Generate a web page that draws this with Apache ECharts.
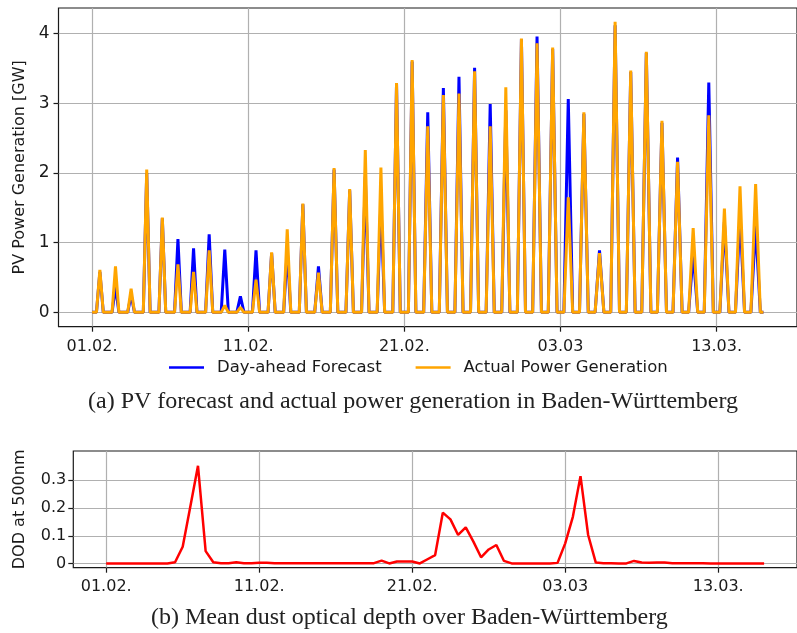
<!DOCTYPE html>
<html>
<head>
<meta charset="utf-8">
<script src="https://cdn.jsdelivr.net/npm/echarts@6/dist/echarts.min.js"></script>
<style>
html,body{margin:0;padding:0;background:#fff;}
#chart{width:797px;height:633px;}
</style>
</head>
<body>
<div id="chart"></div>
<script>
// ---- data ----
const xTickValues = [0, 10, 20, 30, 40];
const xTickLabels = ['01.02.', '11.02.', '21.02.', '03.03', '13.03.'];
const pvTickValues = [0, 1, 2, 3, 4];
const pvTickLabels = ['0', '1', '2', '3', '4'];
const dodTickValues = [0, 0.1, 0.2, 0.3];
const dodTickLabels = ['0', '0.1', '0.2', '0.3'];

// daily peak values (GW), day 0 = 01.02.
const forecastPeak = [0.58, 0.37, 0.25, 2.00, 1.35, 1.05, 0.92, 1.12, 0.90, 0.23,
  0.89, 0.85, 0.90, 1.55, 0.66, 2.05, 1.75, 1.95, 1.60, 3.28,
  3.60, 2.87, 3.22, 3.38, 3.51, 2.99, 2.90, 3.92, 3.96, 3.78,
  3.06, 2.85, 0.89, 4.12, 3.45, 3.72, 2.72, 2.22, 0.85, 3.30,
  1.30, 1.40, 1.25];
const actualPeak = [0.61, 0.66, 0.34, 2.05, 1.36, 0.69, 0.58, 0.89, 0.10, 0.07,
  0.47, 0.86, 1.19, 1.56, 0.57, 2.07, 1.77, 2.33, 2.08, 3.29,
  3.62, 2.67, 3.12, 3.14, 3.46, 2.67, 3.23, 3.93, 3.86, 3.80,
  1.65, 2.87, 0.85, 4.17, 3.47, 3.74, 2.75, 2.16, 1.21, 2.83,
  1.49, 1.81, 1.84];
// hours of PV production per week
const weekProductionHours = [10.5, 11, 11.5, 12.5, 13.5, 14, 14.5];
const lastDay = 43;

// dust optical depth, 12-hourly from 01.02. 00:00
const dodStepDays = 0.5;
const dodValues = [
  0.001, 0.001, 0.001, 0.001, 0.001, 0.001, 0.001, 0.001, 0.001, 0.005,
  0.061, 0.205, 0.351, 0.045, 0.005, 0.002, 0.002, 0.005, 0.002, 0.002,
  0.003, 0.003, 0.002, 0.002, 0.002, 0.002, 0.002, 0.002, 0.002, 0.002,
  0.002, 0.002, 0.002, 0.002, 0.002, 0.002, 0.011, 0.001, 0.008, 0.008,
  0.008, 0.001, 0.016, 0.031, 0.183, 0.159, 0.103, 0.130, 0.079, 0.023,
  0.051, 0.067, 0.010, 0.001, 0.001, 0.001, 0.001, 0.001, 0.001, 0.003,
  0.073, 0.168, 0.314, 0.103, 0.004, 0.002, 0.002, 0.001, 0.001, 0.010,
  0.004, 0.003, 0.004, 0.004, 0.002, 0.002, 0.002, 0.002, 0.002, 0.001,
  0.001, 0.001, 0.001, 0.001, 0.001, 0.001, 0.001
];

// ---- build series points ----
function pvPoints(peaks) {
  const pts = [[0, 0]];
  peaks.forEach((p, d) => {
    const half = weekProductionHours[Math.floor(d / 7)] / 48;
    pts.push([d + 0.5 - half, 0], [d + 0.5, p], [d + 0.5 + half, 0]);
  });
  pts.push([lastDay, 0]);
  return pts;
}
const dodPoints = dodValues.map((v, i) => [i * dodStepDays, v]);

const FONT = 'DejaVu Sans';
const TXT = '#1a1a1a';
const GRIDC = '#b0b0b0';

function xAxisFor(gridIndex, margin) {
  return {
    type: 'value', gridIndex, min: -2.15, max: 45.15,
    axisLine: { show: false, onZero: false },
    axisTick: { show: true, customValues: xTickValues, length: 5, lineStyle: { color: TXT, width: 1.2 } },
    axisLabel: {
      customValues: xTickValues, margin, color: TXT, fontFamily: FONT, fontSize: 16,
      formatter: v => xTickLabels[xTickValues.indexOf(v)]
    },
    splitLine: { show: true, lineStyle: { color: GRIDC, width: 1.2 } }
  };
}

const chart = echarts.init(document.getElementById('chart'), null, { renderer: 'canvas' });
chart.setOption({
  animation: false,
  backgroundColor: '#fff',
  grid: [
    { left: 58.5, top: 8, width: 749, height: 318.7, show: true, borderColor: TXT, borderWidth: 1.2, backgroundColor: 'transparent' },
    { left: 73.3, top: 451, width: 733, height: 116.7, show: true, borderColor: TXT, borderWidth: 1.2, backgroundColor: 'transparent' }
  ],
  xAxis: [xAxisFor(0, 12), xAxisFor(1, 11)],
  yAxis: [
    {
      type: 'value', gridIndex: 0, min: -0.206, max: 4.368,
      name: 'PV Power Generation [GW]', nameLocation: 'middle', nameGap: 30,
      nameTextStyle: { fontFamily: FONT, fontSize: 16, color: TXT },
      axisLine: { show: false, onZero: false },
      axisTick: { show: true, customValues: pvTickValues, length: 5, lineStyle: { color: TXT, width: 1.2 } },
      axisLabel: {
        customValues: pvTickValues, margin: 9, color: TXT, fontFamily: FONT, fontSize: 17,
        formatter: v => pvTickLabels[pvTickValues.indexOf(v)]
      },
      splitLine: { show: true, lineStyle: { color: GRIDC, width: 1.2 } }
    },
    {
      type: 'value', gridIndex: 1, min: -0.0143, max: 0.404,
      name: 'DOD at 500nm', nameLocation: 'middle', nameGap: 45,
      nameTextStyle: { fontFamily: FONT, fontSize: 16, color: TXT },
      axisLine: { show: false, onZero: false },
      axisTick: { show: true, customValues: dodTickValues, length: 5, lineStyle: { color: TXT, width: 1.2 } },
      axisLabel: {
        customValues: dodTickValues, margin: 7, color: TXT, fontFamily: FONT, fontSize: 16,
        formatter: v => dodTickLabels[dodTickValues.indexOf(Math.round(v * 10) / 10)]
      },
      splitLine: { show: true, lineStyle: { color: GRIDC, width: 1.2 } }
    }
  ],
  legend: {
    left: 169, top: 359, padding: 0, itemGap: 34, itemWidth: 35, itemHeight: 2.5,
    icon: 'rect',
    textStyle: { fontFamily: FONT, fontSize: 16.5, color: TXT, padding: [0, 0, 0, 8] },
    data: ['Day-ahead Forecast', 'Actual Power Generation']
  },
  series: [
    {
      name: 'Day-ahead Forecast', type: 'line', xAxisIndex: 0, yAxisIndex: 0,
      data: pvPoints(forecastPeak), symbol: 'none', color: '#0000ff',
      lineStyle: { color: '#0000ff', width: 3 }
    },
    {
      name: 'Actual Power Generation', type: 'line', xAxisIndex: 0, yAxisIndex: 0,
      data: pvPoints(actualPeak), symbol: 'none', color: '#ffa500',
      lineStyle: { color: '#ffa500', width: 3 }
    },
    {
      name: 'DOD', type: 'line', xAxisIndex: 1, yAxisIndex: 1,
      data: dodPoints, symbol: 'none', color: '#ff0000',
      lineStyle: { color: '#ff0000', width: 2.5 }
    }
  ],
  graphic: [
    {
      type: 'text', left: 88, top: 390,
      style: { text: '(a) PV forecast and actual power generation in Baden-Württemberg', fontFamily: 'Liberation Serif', fontSize: 24, fill: '#222' }
    },
    {
      type: 'text', left: 151, top: 606,
      style: { text: '(b) Mean dust optical depth over Baden-Württemberg', fontFamily: 'Liberation Serif', fontSize: 24, fill: '#222' }
    }
  ]
});
</script>
</body>
</html>
